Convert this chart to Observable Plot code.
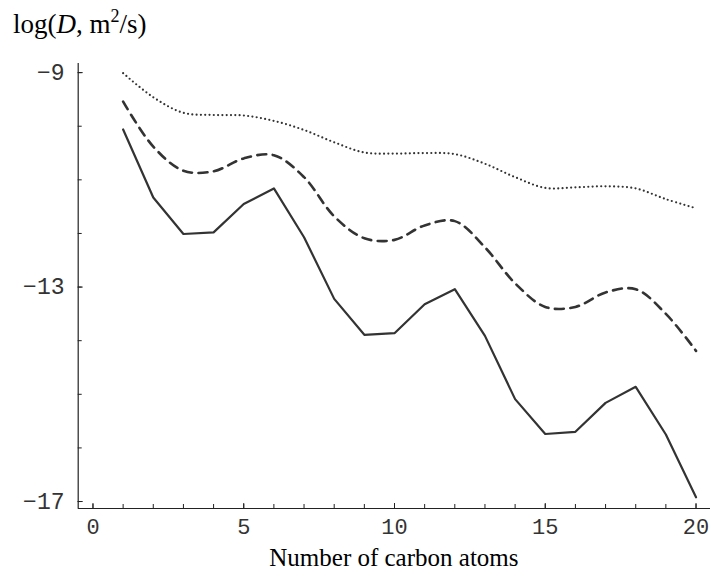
<!DOCTYPE html>
<html><head><meta charset="utf-8">
<script src="https://cdn.jsdelivr.net/npm/d3@7"></script>
<script src="https://cdn.jsdelivr.net/npm/@observablehq/plot@0.6"></script>
<style>
body{margin:0;background:#fff;}
#chart{position:relative;width:712px;height:578px;}
</style>
</head><body>
<div id="chart"></div>
<script>
const carbonAtoms = d3.range(1, 21);
const solidSeries  = [-10.06,-11.33,-12.01,-11.98,-11.45,-11.16,-12.07,-13.22,-13.89,-13.86,-13.32,-13.04,-13.91,-15.09,-15.74,-15.70,-15.16,-14.86,-15.75,-16.92];
const dashedSeries = [-9.54,-10.38,-10.83,-10.84,-10.60,-10.54,-10.95,-11.68,-12.09,-12.12,-11.85,-11.77,-12.26,-12.93,-13.37,-13.37,-13.10,-13.04,-13.50,-14.19];
const dottedSeries = [-9.01,-9.46,-9.75,-9.79,-9.80,-9.90,-10.07,-10.30,-10.49,-10.51,-10.50,-10.52,-10.70,-10.95,-11.15,-11.14,-11.12,-11.16,-11.36,-11.53];
const xMajorTicks = [0, 5, 10, 15, 20];
const xMinorTicks = d3.range(0, 21);
const yMajorTicks = [-17, -13, -9];
const yMinorTicks = d3.range(-17, -8);
const xDomain = [-0.49, 20.48];
const yDomain = [-17.13, -8.83];

const toRows = ys => carbonAtoms.map((n, i) => ({n, v: ys[i]}));
const ink = "#333";
const mono = "'Liberation Mono', 'DejaVu Sans Mono', monospace";
const fmt = d => (d < 0 ? "\u2212" : "") + Math.abs(d);

const plot = Plot.plot({
  width: 712, height: 578,
  marginLeft: 77.7, marginRight: 2, marginTop: 63, marginBottom: 70,
  x: {domain: xDomain, axis: null},
  y: {domain: yDomain, axis: null},
  style: {background: "#fff", color: ink},
  marks: [
    Plot.ruleY([yDomain[0]], {stroke: "#222", strokeWidth: 1.2}),
    Plot.ruleX([xDomain[0]], {stroke: "#222", strokeWidth: 1.2}),
    Plot.axisX(xMinorTicks, {tickSize: -4, tickFormat: () => "", stroke: "#222", label: null}),
    Plot.axisX(xMajorTicks, {tickSize: -5, tickPadding: 14.5, tickFormat: fmt, fontSize: 22, fontFamily: mono, fill: ink, stroke: "#222", label: null}),
    Plot.axisY(yMinorTicks, {tickSize: -4, tickFormat: () => "", stroke: "#222", label: null}),
    Plot.axisY(yMajorTicks, {tickSize: -5, tickPadding: 18.7, tickFormat: fmt, fontSize: 23, fontFamily: mono, fill: ink, stroke: "#222", label: null}),
    Plot.line(toRows(dottedSeries), {x: "n", y: "v", curve: "catmull-rom", stroke: ink, strokeWidth: 2.2, strokeDasharray: "0,4.3", strokeLinecap: "round"}),
    Plot.line(toRows(dashedSeries), {x: "n", y: "v", curve: "catmull-rom", stroke: ink, strokeWidth: 2.6, strokeDasharray: "9,6.5"}),
    Plot.line(toRows(solidSeries), {x: "n", y: "v", stroke: ink, strokeWidth: 2.2})
  ]
});
document.getElementById("chart").appendChild(plot);

const svg = d3.select(plot);
const serif = "'Liberation Serif', 'Times New Roman', serif";
const yl = svg.append("text").attr("x", 13).attr("y", 33).attr("text-anchor", "start")
  .attr("font-family", serif).attr("font-size", 27).attr("fill", "#000");
yl.append("tspan").text("log(");
yl.append("tspan").attr("font-style", "italic").text("D");
yl.append("tspan").text(", m");
yl.append("tspan").attr("font-size", 18).attr("dy", -11).text("2");
yl.append("tspan").attr("dy", 11).text("/s)");

svg.append("text").attr("x", 393.9).attr("y", 566).attr("text-anchor", "middle")
  .attr("font-family", serif).attr("font-size", 25).attr("fill", "#000")
  .text("Number of carbon atoms");
</script>
</body></html>
